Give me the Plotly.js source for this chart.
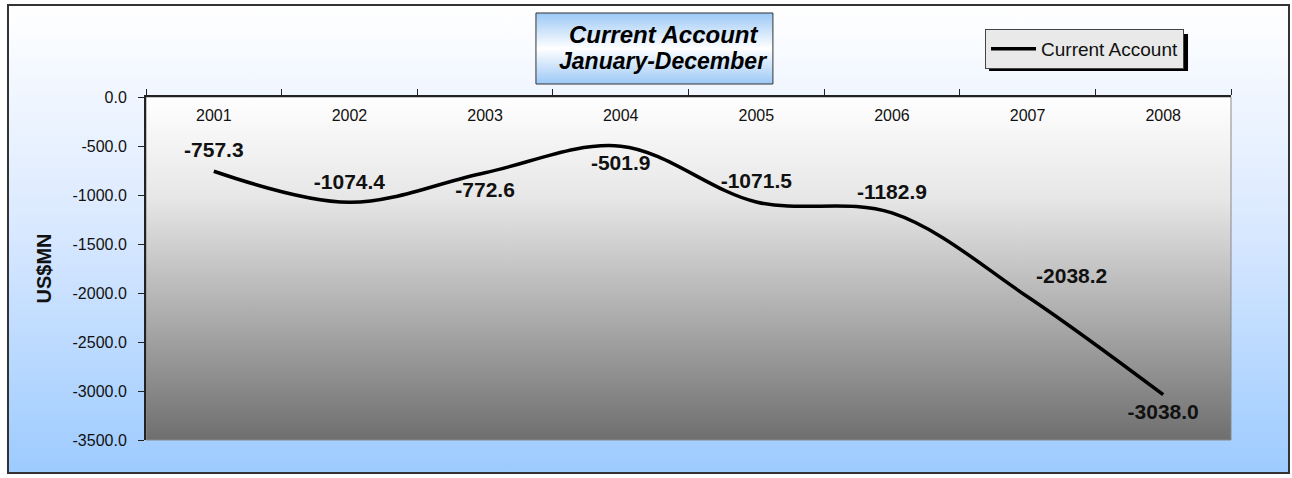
<!DOCTYPE html>
<html>
<head>
<meta charset="utf-8">
<script src="https://cdn.plot.ly/plotly-3.0.1.min.js"></script>
<style>
  body { margin: 0; background: #fff; }
  #wrap { position: relative; width: 1292px; height: 478px; background: #fff; }
  #frame {
    position: absolute; left: 7px; top: 4px; width: 1279px; height: 466px;
    border: 2px solid #333;
    background: linear-gradient(to bottom, #ffffff 0%, #dceaff 45%, #9dcbff 100%);
  }
  #chart { position: absolute; left: 0; top: 0; width: 1292px; height: 478px; }
</style>
</head>
<body>
<div id="wrap">
  <div id="frame"></div>
  <div id="chart"></div>
</div>
<script>
// chart values
var years = ['2001', '2002', '2003', '2004', '2005', '2006', '2007', '2008']
var currentAccount = [-757.3, -1074.4, -772.6, -501.9, -1071.5, -1182.9, -2038.2, -3038.0]
var labelSide = ['top center', 'top center', 'bottom center', 'bottom center',
                 'top center', 'top center', 'top right', 'bottom center']
var yTicks = [0, -500, -1000, -1500, -2000, -2500, -3000, -3500]
var yTickText = yTicks.map(function (v) { return v.toFixed(1) })

function gradientSvg(stops) {
  var s = '<svg xmlns="http://www.w3.org/2000/svg" width="100" height="100" preserveAspectRatio="none">' +
    '<defs><linearGradient id="g" x1="0" y1="0" x2="0" y2="1">'
  stops.forEach(function (st) {
    s += '<stop offset="' + st[0] + '" stop-color="' + st[1] + '"/>'
  })
  s += '</linearGradient></defs><rect width="100" height="100" fill="url(#g)"/></svg>'
  return 'data:image/svg+xml;utf8,' + encodeURIComponent(s)
}

var plotGrad = gradientSvg([[0, '#ffffff'], [0.3, '#e6e6e6'], [1, '#6f6f6f']])
var titleGrad = gradientSvg([[0, '#9cc8f6'], [0.5, '#ffffff'], [1, '#9cc8f6']])

var font = 'Liberation Sans, Arial, sans-serif'

var trace1 = {
  x: years,
  y: currentAccount,
  mode: 'lines+markers+text',
  type: 'scatter',
  name: 'Current Account',
  line: { color: '#000000', width: 3.5, shape: 'spline', smoothing: 1 },
  marker: { size: 12, color: 'rgba(0,0,0,0)' },
  text: currentAccount.map(function (v) { return '<b>' + v.toFixed(1) + '</b>' }),
  textposition: labelSide,
  textfont: { family: font, size: 21, color: '#111' },
  cliponaxis: false,
  hoverinfo: 'x+y'
}

var layout = {
  width: 1292,
  height: 478,
  margin: { l: 146, r: 61, t: 97, b: 38, pad: 0 },
  paper_bgcolor: 'rgba(0,0,0,0)',
  plot_bgcolor: 'rgba(0,0,0,0)',
  font: { family: font, size: 16, color: '#111' },
  showlegend: true,
  legend: {
    x: 0.7733, y: 1.1983, xanchor: 'left', yanchor: 'top',
    bgcolor: '#e9e9e9', bordercolor: '#444', borderwidth: 1,
    font: { family: font, size: 19, color: '#111' },
    itemwidth: 45
  },
  xaxis: {
    type: 'category',
    side: 'top',
    range: [-0.5, 7.5],
    showgrid: false,
    zeroline: false,
    showline: true, linecolor: '#222', linewidth: 2,
    ticks: 'outside', ticklen: 6, tickcolor: '#222', tickwidth: 1,
    tickson: 'boundaries',
    ticklabelstandoff: -32,
    tickfont: { family: font, size: 16, color: '#111' }
  },
  yaxis: {
    range: [-3500, 0],
    tickmode: 'array',
    tickvals: yTicks,
    ticktext: yTickText,
    showgrid: false,
    zeroline: false,
    showline: true, linecolor: '#222', linewidth: 2,
    ticks: 'outside', ticklen: 6, tickcolor: '#222', tickwidth: 1,
    ticklabelstandoff: 8,
    tickfont: { family: font, size: 16, color: '#111' },
    title: { text: '<b>US$MN</b>', font: { family: font, size: 20, color: '#111' }, standoff: 16 }
  },
  images: [
    { source: plotGrad, xref: 'paper', yref: 'paper', x: 0, y: 1, sizex: 1, sizey: 1,
      sizing: 'stretch', xanchor: 'left', yanchor: 'top', layer: 'below' },
    { source: titleGrad, xref: 'paper', yref: 'paper', x: 0.3594, y: 1.2449, sizex: 0.2184, sizey: 0.207,
      sizing: 'stretch', xanchor: 'left', yanchor: 'top', layer: 'below' }
  ],
  shapes: [
    // plot area edge
    { type: 'rect', xref: 'paper', yref: 'paper', x0: 0, x1: 1, y0: 0, y1: 1,
      line: { color: '#8a8a8a', width: 1 }, fillcolor: 'rgba(0,0,0,0)', layer: 'below' },
    // title box border
    { type: 'rect', xref: 'paper', yref: 'paper', x0: 0.3594, x1: 0.5778, y0: 1.0379, y1: 1.2449,
      line: { color: '#333', width: 1 }, fillcolor: 'rgba(0,0,0,0)' },
    // legend shadow
    { type: 'rect', xref: 'paper', yref: 'paper', x0: 0.777, x1: 0.9604, y0: 1.0758, y1: 1.1837,
      line: { width: 0 }, fillcolor: '#000', layer: 'below' }
  ],
  annotations: [
    { text: '<b><i>Current Account</i></b>', xref: 'paper', yref: 'paper',
      x: 0.4765, y: 1.1808, xanchor: 'center', yanchor: 'middle', showarrow: false,
      font: { family: font, size: 24, color: '#000' } },
    { text: '<b><i>January-December</i></b>', xref: 'paper', yref: 'paper',
      x: 0.4765, y: 1.105, xanchor: 'center', yanchor: 'middle', showarrow: false,
      font: { family: font, size: 23, color: '#000' } }
  ]
}

Plotly.newPlot('chart', [trace1], layout, { displayModeBar: false, staticPlot: true })
</script>
</body>
</html>
